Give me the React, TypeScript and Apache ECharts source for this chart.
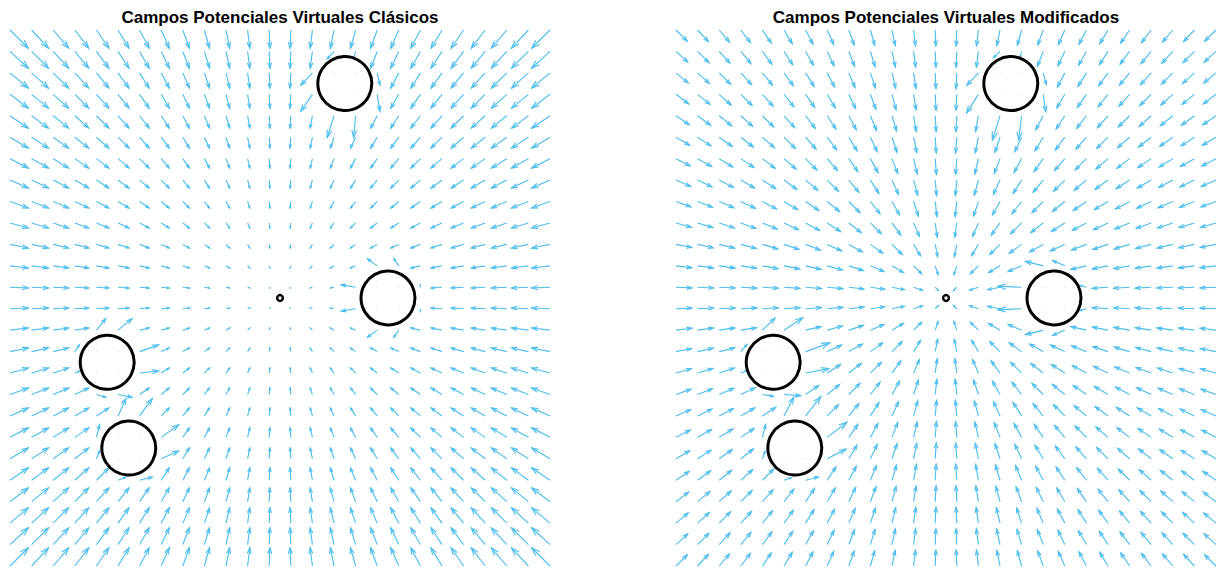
import React, { useEffect, useRef } from "react";
import * as echarts from "echarts";

// Sample points of the square workspace (same for both axes)
const GRID_TICKS = [
  0, 0.4, 0.8, 1.2, 1.6, 2, 2.4, 2.8, 3.2, 3.6, 4, 4.4, 4.8,
  5.2, 5.6, 6, 6.4, 6.8, 7.2, 7.6, 8, 8.4, 8.8, 9.2, 9.6, 10,
];

// Goal position
const GOAL = [5, 5];

// Circular obstacles
const OBSTACLE_X = [6.2, 7.0, 1.8, 2.2];
const OBSTACLE_Y = [9.0, 5.0, 3.8, 2.2];
const OBSTACLE_R = [0.5, 0.5, 0.5, 0.5];

// Potential field gains
const K_ATT = 1; // classic linear attraction
const F_MAX = 4.35; // modified: saturated attraction magnitude
const D_SAT = 0.96; // modified: saturation distance
const ETA = 0.0112; // repulsion gain
const RHO_0 = 0.3; // repulsion influence distance from the obstacle border

// Arrow scale applied to the force (quiver scaling)
const QUIVER_SCALE = 0.068;

const TITLES = [
  "Campos Potenciales Virtuales Clásicos",
  "Campos Potenciales Virtuales Modificados",
];

const ARROW_COLOR = "#4DBEEE";

type Mode = "classic" | "modified";

function fieldAt(x: number, y: number, mode: Mode): [number, number] {
  // inside an obstacle the field is null
  for (let k = 0; k < OBSTACLE_X.length; k++) {
    const d = Math.hypot(x - OBSTACLE_X[k], y - OBSTACLE_Y[k]);
    if (d <= OBSTACLE_R[k]) return [0, 0];
  }
  const gx = GOAL[0] - x;
  const gy = GOAL[1] - y;
  const dg = Math.hypot(gx, gy);
  let fx = 0;
  let fy = 0;
  if (mode === "classic") {
    fx = K_ATT * gx;
    fy = K_ATT * gy;
  } else if (dg > 1e-9) {
    const m = F_MAX * Math.tanh(dg / D_SAT);
    fx = (m * gx) / dg;
    fy = (m * gy) / dg;
  }
  for (let k = 0; k < OBSTACLE_X.length; k++) {
    const ox = x - OBSTACLE_X[k];
    const oy = y - OBSTACLE_Y[k];
    const d = Math.hypot(ox, oy);
    const s = d - OBSTACLE_R[k];
    if (s < RHO_0) {
      const m = (ETA * (1 / s - 1 / RHO_0)) / (s * s);
      fx += (m * ox) / d;
      fy += (m * oy) / d;
    }
  }
  return [fx, fy];
}

function buildField(mode: Mode): number[][] {
  const rows: number[][] = [];
  for (const y of GRID_TICKS) {
    for (const x of GRID_TICKS) {
      const [fx, fy] = fieldAt(x, y, mode);
      rows.push([x, y, fx * QUIVER_SCALE, fy * QUIVER_SCALE]);
    }
  }
  return rows;
}

const obstacleData = OBSTACLE_X.map((x, i) => [x, OBSTACLE_Y[i], OBSTACLE_R[i]]);

function renderArrow(_params: any, api: any) {
  const x = api.value(0);
  const y = api.value(1);
  const u = api.value(2);
  const v = api.value(3);
  const p0 = api.coord([x, y]);
  const p1 = api.coord([x + u, y + v]);
  const du = p1[0] - p0[0];
  const dv = p1[1] - p0[1];
  if (Math.hypot(du, dv) < 0.4) {
    return {
      type: "circle",
      shape: { cx: p0[0], cy: p0[1], r: 0.55 },
      style: { fill: ARROW_COLOR, opacity: 0.45 },
    };
  }
  // MATLAB-style open arrow head
  const alpha = 0.33;
  const beta = 0.33;
  const left = [p1[0] - alpha * (du + beta * dv), p1[1] - alpha * (dv - beta * du)];
  const right = [p1[0] - alpha * (du - beta * dv), p1[1] - alpha * (dv + beta * du)];
  const style = { stroke: ARROW_COLOR, lineWidth: 1.15, fill: "none" };
  return {
    type: "group",
    children: [
      { type: "polyline", shape: { points: [p0, p1] }, style },
      { type: "polyline", shape: { points: [left, p1, right] }, style },
    ],
  };
}

function renderObstacle(_params: any, api: any) {
  const c = api.coord([api.value(0), api.value(1)]);
  const r = api.size([api.value(2), api.value(2)])[0];
  return {
    type: "circle",
    shape: { cx: c[0], cy: c[1], r },
    style: { fill: "none", stroke: "#000", lineWidth: 3 },
  };
}

function renderGoal(_params: any, api: any) {
  const c = api.coord([api.value(0), api.value(1)]);
  return {
    type: "circle",
    shape: { cx: c[0], cy: c[1], r: 2.9 },
    style: { fill: "#fff", stroke: "#000", lineWidth: 2.4 },
  };
}

export default function App() {
  const ref = useRef<HTMLDivElement>(null);

  useEffect(() => {
    if (!ref.current) return;
    const chart = echarts.init(ref.current, undefined, { renderer: "svg" });
    const modes: Mode[] = ["classic", "modified"];
    const grids = [
      { left: 10, top: 30, width: 540, height: 536 },
      { left: 676, top: 30, width: 540, height: 536 },
    ];
    const series: any[] = [];
    modes.forEach((mode, i) => {
      series.push({
        type: "custom",
        xAxisIndex: i,
        yAxisIndex: i,
        renderItem: renderArrow,
        data: buildField(mode),
        encode: { x: 0, y: 1 },
        clip: false,
        silent: true,
        z: 2,
      });
      series.push({
        type: "custom",
        xAxisIndex: i,
        yAxisIndex: i,
        renderItem: renderObstacle,
        data: obstacleData,
        encode: { x: 0, y: 1 },
        clip: false,
        silent: true,
        z: 3,
      });
      series.push({
        type: "custom",
        xAxisIndex: i,
        yAxisIndex: i,
        renderItem: renderGoal,
        data: [GOAL],
        encode: { x: 0, y: 1 },
        clip: false,
        silent: true,
        z: 4,
      });
    });

    chart.setOption({
      animation: false,
      backgroundColor: "#fff",
      grid: grids,
      xAxis: grids.map((_, i) => ({
        type: "value",
        gridIndex: i,
        min: 0,
        max: 10,
        show: false,
      })),
      yAxis: grids.map((_, i) => ({
        type: "value",
        gridIndex: i,
        min: 0,
        max: 10,
        show: false,
      })),
      graphic: TITLES.map((t, i) => ({
        type: "text",
        x: grids[i].left + grids[i].width / 2,
        y: 17,
        style: {
          text: t,
          font: "bold 17px 'Liberation Sans', Arial, sans-serif",
          fill: "#000",
          textAlign: "center",
          textVerticalAlign: "middle",
          align: "center",
          verticalAlign: "middle",
        },
      })),
      series,
    });

    return () => chart.dispose();
  }, []);

  return (
    <div
      ref={ref}
      style={{
        position: "fixed",
        left: 0,
        top: 0,
        width: 1221,
        height: 570,
        background: "#fff",
      }}
    />
  );
}
